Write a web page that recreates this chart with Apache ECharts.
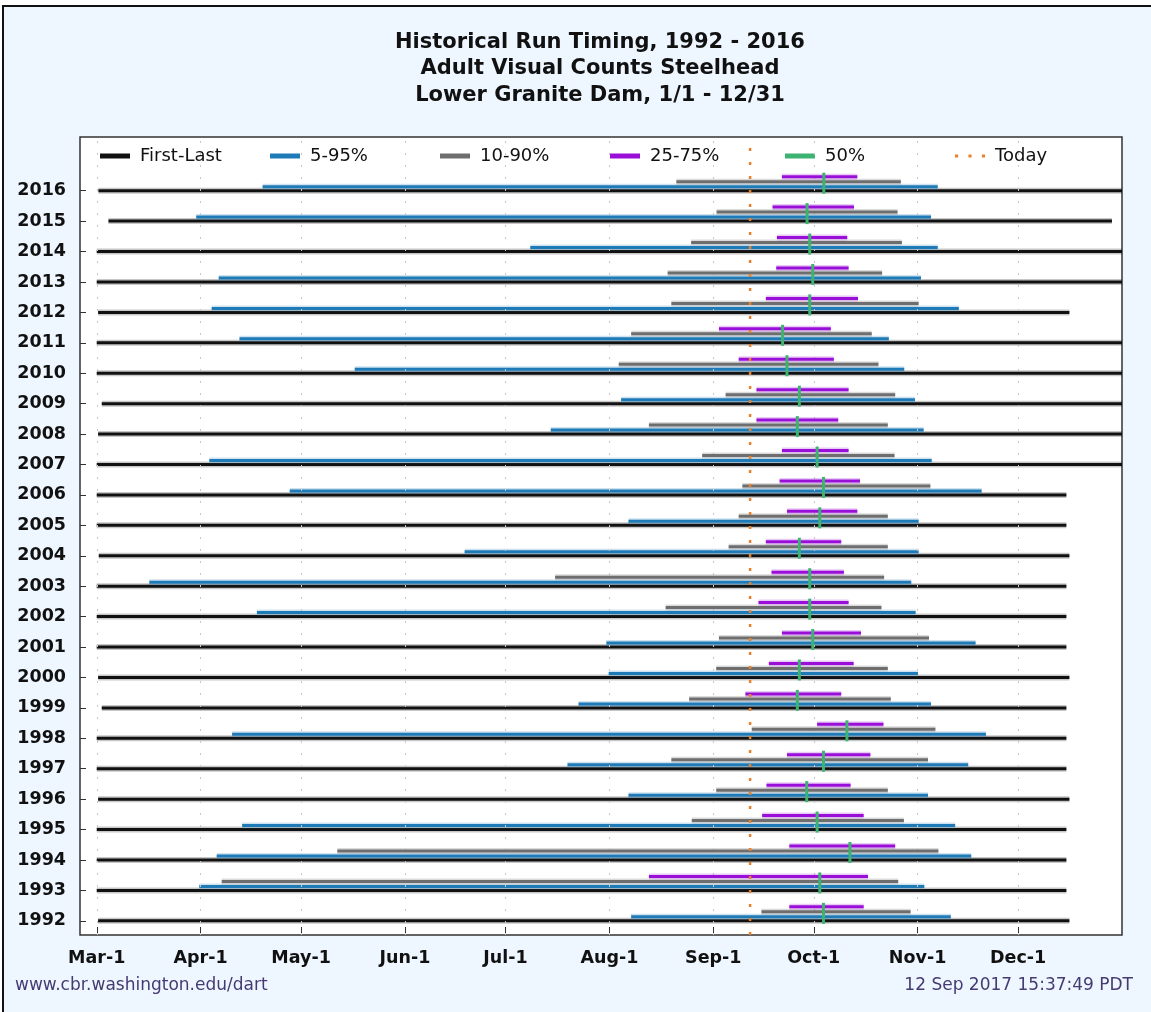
<!DOCTYPE html>
<html>
<head>
<meta charset="utf-8">
<script src="https://cdn.jsdelivr.net/npm/echarts@6/dist/echarts.min.js"></script>
<style>
html,body{margin:0;padding:0;background:#fff;}
#chart{width:1151px;height:1012px;}
</style>
</head>
<body>
<div id="chart"></div>
<script>
// ---- data (day of year, Jan 1 = 0) ----
const years = [1992,1993,1994,1995,1996,1997,1998,1999,2000,2001,2002,2003,2004,2005,2006,2007,2008,2009,2010,2011,2012,2013,2014,2015,2016];
const firstDay = [59.4,59,59,59,59.4,59,59,60.5,59.4,59,59,59,59.6,59,59,59,59.4,60.5,59,59,59.4,59,59,62.5,59.5];
const lastDay  = [349.3,348.4,348.4,348.4,349.3,348.4,348.4,348.4,349.3,348.4,348.4,348.4,349.3,348.4,348.4,365,365,365,365,365,349.3,365,365,362,365];
const p5  = [218.5,89.6,94.8,102.4,217.7,199.5,99.4,202.8,211.8,211.1,106.8,74.7,168.8,217.7,116.6,92.6,194.5,215.5,136,101.6,93.3,95.4,188.4,88.7,108.5];
const p95 = [313.9,306,320,315.2,307.1,319.1,324.4,308,304.1,321.3,303.4,302.1,304.3,304.3,323.1,308.2,305.8,303.2,300,295.4,316.3,305,310,308,310];
const p10 = [257.4,96.3,130.8,236.6,243.9,230.5,254.5,235.8,243.9,244.7,228.8,195.8,247.6,250.6,251.7,239.7,223.8,246.7,214.8,218.5,230.5,229.4,236.4,244,232];
const p90 = [301.9,298.2,310.2,299.9,295.1,307.1,309.3,296,295.1,307.4,293.2,294,295.1,295.1,307.8,297.1,295.1,297.3,292.3,290.3,304.3,293.4,299.3,298,299];
const p25 = [265.7,223.8,265.7,257.6,258.9,265,274,252.6,259.6,263.5,256.5,260.4,258.7,265,262.8,263.5,255.9,255.9,250.6,244.7,258.7,261.8,262,260.7,263.5];
const p75 = [287.9,289.2,297.3,287.9,284,289.9,293.8,281.2,284.9,287.1,283.4,282,281.2,286,286.8,283.4,280.3,283.4,279,278.1,286.2,283.4,283,285,286];
const p50 = [275.9,274.8,283.8,274,270.9,275.9,282.9,268.1,268.7,272.7,271.8,271.8,268.7,274.8,275.9,274,268.1,268.7,265,263.7,271.8,272.7,271.8,271,276];
const today = 254;
const monthTicks  = [59,90,120,151,181,212,243,273,304,334];
const monthLabels = ['Mar-1','Apr-1','May-1','Jun-1','Jul-1','Aug-1','Sep-1','Oct-1','Nov-1','Dec-1'];
const titleLines = ['Historical Run Timing, 1992 - 2016','Adult Visual Counts Steelhead','Lower Granite Dam, 1/1 - 12/31'];
const legendNames = ['First-Last','5-95%','10-90%','25-75%','50%','Today'];

const X_MIN = 54, X_MAX = 365, Y_MIN = 1991.535, Y_MAX = 2017.765;
const FONT = 'DejaVu Sans';
const legendLeft = [100, 270, 440, 610, 785, 955];

function band(name, color, halo, lo, hi, dy, z) {
  return {
    type: 'custom', name: name, z: z, clip: true, silent: true,
    itemStyle: { color: color },
    data: years.map((y, i) => [lo[i], hi[i], y]),
    encode: { x: [0, 1], y: 2 },
    renderItem: function (params, api) {
      const a = api.coord([api.value(0), api.value(2)]);
      const b = api.coord([api.value(1), api.value(2)]);
      const y = a[1] + dy;
      return { type: 'group', children: [
        { type: 'line', shape: { x1: a[0], y1: y, x2: b[0], y2: y }, style: { stroke: halo, lineWidth: 6 } },
        { type: 'line', shape: { x1: a[0], y1: y, x2: b[0], y2: y }, style: { stroke: color, lineWidth: 3 } }
      ]};
    }
  };
}

const chart = echarts.init(document.getElementById('chart'), null, { renderer: 'canvas' });

const legends = legendNames.map((n, i) => ({
  left: legendLeft[i], top: 147, padding: 0, itemWidth: 30, itemHeight: 5, selectedMode: false,
  textStyle: { fontFamily: FONT, fontSize: 18, color: '#111', padding: [0, 0, 0, 5] },
  data: [{ name: n, icon: n === 'Today' ? 'path://M0,0h3v3h-3zM13,0h3v3h-3zM26,0h3v3h-3z' : 'rect' }]
}));

const option = {
  animation: false,
  backgroundColor: '#ffffff',
  graphic: [
    { type: 'rect', z: -10, shape: { x: 3, y: 6, width: 1160, height: 1020 }, style: { fill: '#eef6ff', stroke: '#111', lineWidth: 2 } },
    { type: 'text', x: 600, y: 43, style: { text: titleLines[0], font: 'bold 21px "DejaVu Sans"', fill: '#111', align: 'center', verticalAlign: 'middle' } },
    { type: 'text', x: 600, y: 69, style: { text: titleLines[1], font: 'bold 21px "DejaVu Sans"', fill: '#111', align: 'center', verticalAlign: 'middle' } },
    { type: 'text', x: 600, y: 96, style: { text: titleLines[2], font: 'bold 21px "DejaVu Sans"', fill: '#111', align: 'center', verticalAlign: 'middle' } },
    { type: 'text', x: 15, y: 986, style: { text: 'www.cbr.washington.edu/dart', font: '17px "DejaVu Sans"', fill: '#453a72', align: 'left', verticalAlign: 'middle' } },
    { type: 'text', x: 1133, y: 986, style: { text: '12 Sep 2017 15:37:49 PDT', font: '17px "DejaVu Sans"', fill: '#453a72', align: 'right', verticalAlign: 'middle' } }
  ],
  grid: { left: 80, right: 29, top: 137, bottom: 77, show: true, backgroundColor: '#ffffff', borderColor: '#333', borderWidth: 1.5 },
  legend: legends,
  xAxis: {
    type: 'value', min: X_MIN, max: X_MAX,
    axisLine: { show: false },
    axisTick: { show: true, inside: true, length: 8, customValues: monthTicks, lineStyle: { color: '#333' } },
    axisLabel: { customValues: monthTicks, margin: 14, fontFamily: FONT, fontWeight: 'bold', fontSize: 17.5, color: '#111',
      formatter: v => monthLabels[monthTicks.indexOf(v)] },
    splitLine: { show: false }
  },
  yAxis: {
    type: 'value', min: Y_MIN, max: Y_MAX,
    axisLine: { show: false },
    axisTick: { show: true, inside: true, length: 6, customValues: years, lineStyle: { color: '#333' } },
    axisLabel: { customValues: years, margin: 14, fontFamily: FONT, fontWeight: 'bold', fontSize: 17.5, color: '#111',
      formatter: v => String(Math.round(v)) },
    splitLine: { show: false }
  },
  series: [
    { type: 'line', name: 'grid', data: [], silent: true, z: 1,
      markLine: { silent: true, symbol: 'none', label: { show: false },
        lineStyle: { color: '#c8c8c8', type: [2, 10], width: 1 },
        data: monthTicks.map(v => ({ xAxis: v })) } },
    band('First-Last', '#111111', 'rgba(0,0,0,0.22)', firstDay, lastDay, 0, 3),
    band('5-95%', '#1f7ab8', 'rgba(31,122,184,0.22)', p5, p95, -4, 4),
    band('10-90%', '#6e6e6e', 'rgba(110,110,110,0.25)', p10, p90, -9, 5),
    band('25-75%', '#9a0fd8', 'rgba(154,15,216,0.22)', p25, p75, -14, 6),
    {
      type: 'custom', name: '50%', z: 9, clip: true, silent: true,
      itemStyle: { color: '#3cb371' },
      data: years.map((y, i) => [p50[i], y]),
      encode: { x: 0, y: 1 },
      renderItem: function (params, api) {
        const a = api.coord([api.value(0), api.value(1)]);
        return { type: 'line', shape: { x1: a[0], y1: a[1] - 18, x2: a[0], y2: a[1] + 3 }, style: { stroke: '#3cb371', lineWidth: 3 } };
      }
    },
    { type: 'line', name: 'Today', z: 8, silent: true, symbol: 'none',
      itemStyle: { color: '#e8822a' },
      lineStyle: { color: '#e8822a', width: 2.5, type: [3, 11] },
      data: [[today, Y_MIN], [today, Y_MAX]] }
  ]
};
chart.setOption(option);
</script>
</body>
</html>
